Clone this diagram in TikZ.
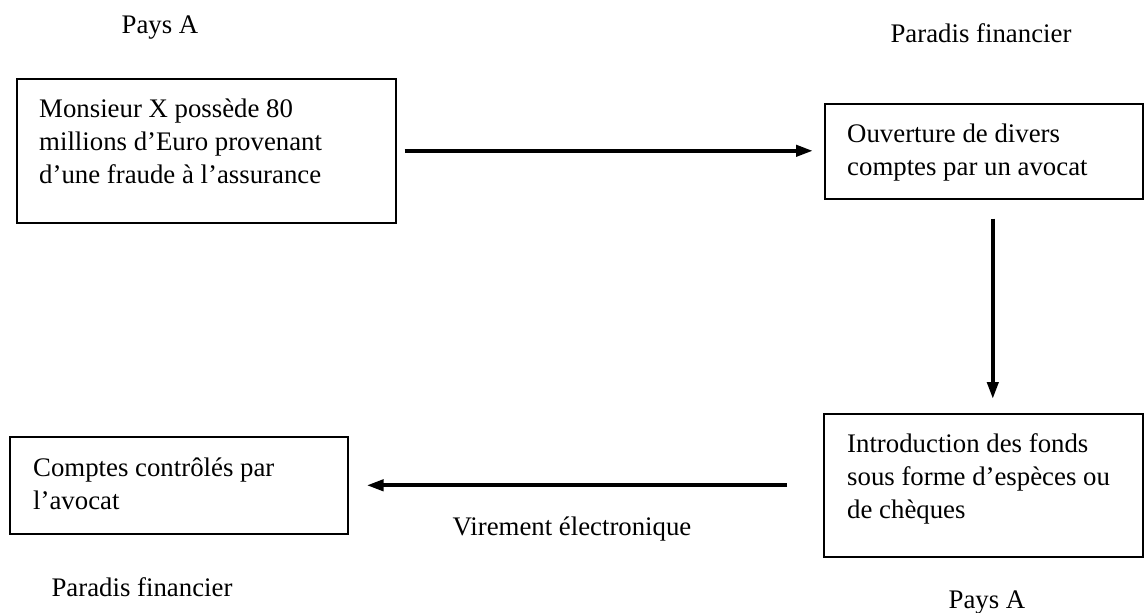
\documentclass[tikz,border=0pt]{standalone}
\usepackage{fontspec}
\setmainfont{Liberation Serif}
\usetikzlibrary{arrows.meta,calc}
\tikzset{
  box/.style={draw=black, line width=1.6pt, inner sep=0pt, anchor=north west},
  boxtext/.style={anchor=base west, inner sep=0pt, font=\fontsize{26.8}{33}\selectfont},
  label/.style={anchor=base, inner sep=0pt, font=\fontsize{26.8}{33}\selectfont},
  flow/.style={line width=4pt, -{Triangle[length=17pt,width=11pt]}},
}
\begin{document}
\begin{tikzpicture}[x=1pt, y=-1pt]
  \useasboundingbox (0,0) rectangle (1144,613);

  % Boxes
  \node[box, minimum width=379pt, minimum height=144pt] (b1) at (16,78) {};
  \node[box, minimum width=318pt, minimum height=95pt]  (b2) at (824,103) {};
  \node[box, minimum width=319pt, minimum height=143pt] (b3) at (823,413) {};
  \node[box, minimum width=338pt, minimum height=97pt]  (b4) at (9,436) {};

  % Box texts
  \node[boxtext] (t1) at ($(b1.north west)+(23,39)$)
    {\begin{tabular}[t]{@{}l@{}}Monsieur X possède 80\\millions d’Euro provenant\\d’une fraude à l’assurance\end{tabular}};
  \node[boxtext] (t2) at ($(b2.north west)+(23,39)$)
    {\begin{tabular}[t]{@{}l@{}}Ouverture de divers\\comptes par un avocat\end{tabular}};
  \node[boxtext] (t3) at ($(b3.north west)+(24,39)$)
    {\begin{tabular}[t]{@{}l@{}}Introduction des fonds\\sous forme d’espèces ou\\de chèques\end{tabular}};
  \node[boxtext] (t4) at ($(b4.north west)+(24,40)$)
    {\begin{tabular}[t]{@{}l@{}}Comptes contrôlés par\\l’avocat\end{tabular}};

  % Place labels
  \node[label] (l1) at (160,34) {Pays A};
  \node[label] (l2) at (981,42) {Paradis financier};
  \node[label] (l3) at (142,596) {Paradis financier};
  \node[label] (l4) at (987,608) {Pays A};
  \node[label] (l5) at (572,535) {Virement électronique};

  % Flows
  \draw[flow, shorten <=8pt, shorten >=11pt] (b1.east) -- (b1.east -| b2.west);
  \draw[flow] ([xshift=9pt, yshift=-19pt]b2.south) -- ([xshift=9.5pt, yshift=14pt]b3.north);
  \draw[flow] ([xshift=-36pt]b3.west) -- ([xshift=18pt]b4.east);
\end{tikzpicture}
\end{document}
